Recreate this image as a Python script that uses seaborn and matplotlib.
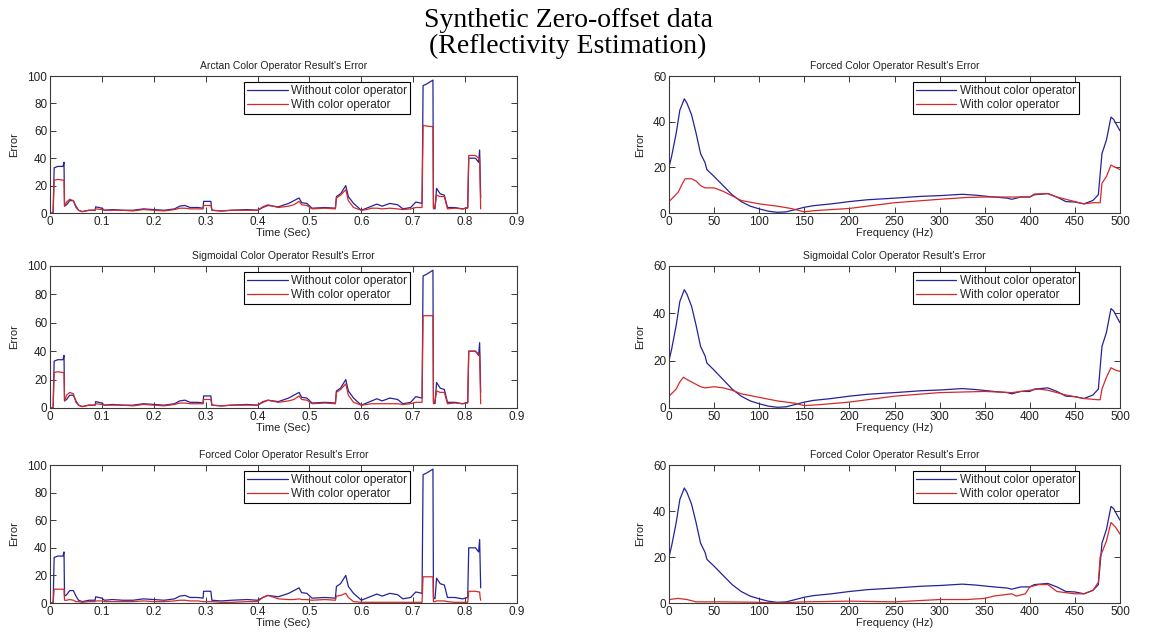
import numpy as np
import pandas as pd
import seaborn as sns
import matplotlib.pyplot as plt

# ---- time-domain error (left column) ----
t_sec = [0.000, 0.006, 0.008, 0.015, 0.025, 0.027, 0.028, 0.032, 0.038, 0.045,
         0.050, 0.055, 0.062, 0.075, 0.087, 0.088, 0.100, 0.105, 0.120, 0.140,
         0.160, 0.180, 0.200, 0.220, 0.240, 0.250, 0.260, 0.270, 0.285, 0.295,
         0.296, 0.310, 0.312, 0.330, 0.350, 0.380, 0.400, 0.410, 0.420, 0.440,
         0.460, 0.470, 0.480, 0.485, 0.495, 0.505, 0.530, 0.550, 0.552, 0.560,
         0.570, 0.575, 0.585, 0.600, 0.610, 0.620, 0.630, 0.640, 0.655, 0.670,
         0.680, 0.695, 0.705, 0.717, 0.719, 0.725, 0.738, 0.739, 0.742, 0.745,
         0.752, 0.760, 0.766, 0.780, 0.795, 0.805, 0.807, 0.820, 0.826, 0.828,
         0.829, 0.830]

t_without = [0, 0, 33, 34, 34, 37, 5, 6, 9, 9,
             5, 2, 1, 2, 2, 4.5, 3.5, 2, 2.5, 2,
             2, 3, 2.5, 2, 3, 5, 5.5, 4, 4, 3.5,
             8.5, 8.5, 2, 1.5, 2, 2.5, 2, 4, 5.5, 4.5,
             7, 9, 11, 7.5, 7, 3.5, 4, 3.5, 12, 14,
             20, 12, 7, 2, 3.5, 5, 6.5, 5, 7, 6,
             3, 4, 8, 7, 93, 94, 97, 4, 3, 18,
             14, 13, 4, 4, 3, 4, 40, 40, 37, 46,
             28, 11]

t_arctan = [0, 0, 24, 24.5, 24, 24, 5, 8, 10, 9,
            4, 2, 1, 2, 2, 3, 2.5, 2, 2, 2,
            1.5, 2.5, 2, 1.5, 2.5, 3.5, 3.5, 3, 3, 3,
            5.5, 5.5, 2, 1.5, 2, 2, 2, 4.5, 6, 4,
            5, 6, 8.5, 6, 5.5, 3, 3.5, 3, 11, 13,
            17, 9, 4, 2, 2.5, 3.5, 3.5, 3, 3.5, 3,
            2.5, 3, 4, 4, 64, 63.5, 63, 3, 5, 13,
            12, 12, 3, 3.5, 3, 3.5, 42, 42, 40, 40,
            20, 3]

t_sigmoid = [0, 0, 25, 25.5, 25, 25, 5, 9, 11, 10,
             4, 2, 1, 2, 2, 3, 2.5, 2, 2, 2,
             1.5, 2.5, 2, 1.5, 2.5, 3.5, 3.5, 3, 3, 3,
             6, 6, 2, 1.5, 2, 2, 2, 4.5, 5.5, 4,
             5, 6, 8.5, 6, 5.5, 3, 3.5, 3, 11, 13,
             17, 9, 4, 2, 2.5, 3, 3, 3, 3, 3,
             2.5, 3, 4, 4, 65, 65, 65, 3, 5, 12,
             11, 11, 3, 3.5, 3, 3.5, 40, 40, 38, 38,
             20, 3]

t_forced = [0, 0, 10, 10, 10, 10, 2, 2, 2.5, 2,
            1, 1, 0.5, 1, 1, 1.5, 1.5, 1, 1, 1,
            1, 1.5, 1, 1, 1.5, 2, 2, 1.5, 1.5, 1,
            1, 1, 1, 0.5, 0.5, 1, 1, 4, 5.5, 3,
            2.5, 2.5, 3, 2.5, 2.5, 2, 2.5, 2, 5, 5.5,
            7, 4, 1, 0.5, 0.5, 0.5, 0.5, 0.5, 0.5, 0.5,
            0.5, 0.5, 0.5, 0.5, 19, 19, 19, 1, 1, 1.5,
            1.5, 1.5, 1, 0.5, 0.5, 0.5, 8.5, 8.5, 8, 8,
            4, 2]

# ---- frequency-domain error (right column) ----
f_blue = [0, 3, 8, 12, 17, 20, 25, 30, 35, 40, 42, 50, 60, 70, 80, 90, 100, 110,
          120, 130, 140, 150, 160, 180, 200, 220, 250, 280, 300, 325, 340, 360,
          375, 380, 390, 400, 405, 420, 430, 440, 450, 460, 470, 476, 480, 485,
          490, 493, 495, 500]
f_without = [20, 25, 35, 45, 50, 48, 43, 35, 26, 22, 19, 16, 12, 8, 5, 3, 1.8, 0.8,
             0.3, 0.5, 1.5, 2.5, 3.2, 4, 5, 5.8, 6.5, 7.3, 7.6, 8.2, 7.8, 7,
             6.5, 6, 7, 7, 8, 8.5, 7, 5, 4.8, 4, 5.5, 8, 26, 32,
             42, 41, 39.5, 36]

f_red_forced_top = [0, 10, 15, 18, 25, 30, 35, 40, 50, 60, 70, 80, 100, 120, 135,
                    150, 160, 200, 250, 300, 330, 350, 380, 400, 405, 420, 430,
                    440, 460, 470, 478, 480, 485, 490, 495, 500]
f_forced_top = [5, 9, 13, 15, 15, 14, 12, 11, 11, 9.5, 7.5, 5.5, 4, 3, 2,
                0.5, 1, 2, 4.5, 6, 6.8, 7, 7, 7, 8.3, 8.5, 7,
                6, 4, 4.5, 4.5, 13, 16, 21, 20, 19]

f_red_sigmoid = [0, 8, 12, 16, 20, 25, 30, 35, 40, 50, 60, 70, 80, 100, 120, 140,
                 150, 170, 200, 250, 300, 350, 380, 400, 410, 420, 440, 460, 475,
                 478, 480, 485, 490, 495, 500]
f_sigmoid = [5, 8, 11, 13, 12, 11, 10, 9, 8.5, 9, 8.5, 7.5, 6, 4.5, 3, 2,
             1, 1.5, 2.5, 5, 6.5, 7, 6.5, 7.5, 8, 7.5, 5.5, 4, 3.5,
             3.5, 8, 13, 17, 16, 15.5]

f_red_forced_bot = [0, 10, 20, 30, 60, 100, 120, 150, 200, 250, 300, 330, 350,
                    360, 370, 380, 385, 395, 400, 410, 420, 430, 440, 450, 460,
                    470, 476, 478, 485, 490, 495, 500]
f_forced_bot = [1.5, 2, 1.5, 0.5, 0.5, 0.3, 0, 0.5, 0.8, 0.5, 1.5, 1.5, 2,
                3, 3.5, 4, 3, 4, 7, 8, 8, 5, 4.5, 4, 4,
                5.5, 9, 20, 27, 35, 33, 30]

time_ticks = [0, 0.1, 0.2, 0.3, 0.4, 0.5, 0.6, 0.7, 0.8, 0.9]
time_labels = ["0", "0.1", "0.2", "0.3", "0.4", "0.5", "0.6", "0.7", "0.8", "0.9"]
freq_ticks = [0, 50, 100, 150, 200, 250, 300, 350, 400, 450, 500]

left_titles = ["Arctan Color Operator Result's Error",
               "Sigmoidal Color Operator Result's Error",
               "Forced Color Operator Result's Error"]
right_titles = ["Forced Color Operator Result's Error",
                "Sigmoidal Color Operator Result's Error",
                "Forced Color Operator Result's Error"]

sns.set_theme(style="ticks")
plt.rcParams['font.family'] = ['Liberation Sans', 'DejaVu Sans']

BLUE = "#23239a"
RED = "#d42a2a"
FS = 8

fig = plt.figure(figsize=(11.53, 6.37), dpi=100)
W, H = 1153, 637
rows_px = [(76, 213), (266, 408), (465, 603)]


def make_ax(x0, x1, y0, y1):
    return fig.add_axes([x0 / W, 1 - y1 / H, (x1 - x0) / W, (y1 - y0) / H])


def style(ax):
    for s in ax.spines.values():
        s.set_color("#3a3a3a")
        s.set_linewidth(0.8)
    ax.tick_params(direction="in", top=True, right=True, length=4, width=0.7,
                   labelsize=FS + 0.5, colors="#3a3a3a", labelcolor="#222222", pad=2)
    ax.set_ylabel("Error", fontsize=FS, color="#222222", labelpad=6)


def legend(ax, anchor):
    leg = ax.legend(loc="upper right", bbox_to_anchor=anchor, fontsize=FS + 0.5,
                    frameon=True, fancybox=False, framealpha=1, edgecolor="black",
                    handlelength=3.4, handletextpad=0.3, borderpad=0.25,
                    labelspacing=0.15, borderaxespad=0)
    leg.get_frame().set_linewidth(0.8)


left_reds = [t_arctan, t_sigmoid, t_forced]
right_reds = [(f_red_forced_top, f_forced_top), (f_red_sigmoid, f_sigmoid),
              (f_red_forced_bot, f_forced_bot)]

for i, (y0, y1) in enumerate(rows_px):
    # left: time
    ax = make_ax(50, 517, y0, y1)
    df_b = pd.DataFrame({"x": t_sec, "y": t_without})
    df_r = pd.DataFrame({"x": t_sec, "y": left_reds[i]})
    sns.lineplot(data=df_b, x="x", y="y", ax=ax, color=BLUE, lw=0.9,
                 sort=False, estimator=None, label="Without color operator")
    sns.lineplot(data=df_r, x="x", y="y", ax=ax, color=RED, lw=0.9,
                 sort=False, estimator=None, label="With color operator")
    ax.set_xlim(0, 0.9)
    ax.set_ylim(0, 100)
    ax.set_xticks(time_ticks)
    ax.set_xticklabels(time_labels)
    ax.set_yticks([0, 20, 40, 60, 80, 100])
    style(ax)
    ax.set_xlabel("Time (Sec)", fontsize=FS, color="#222222", labelpad=0)
    ax.set_title(left_titles[i], fontsize=FS - 0.5, color="#222222", pad=5)
    legend(ax, (0.771, 0.955))

    # right: frequency
    ax = make_ax(669, 1120, y0, y1)
    fx, fy = right_reds[i]
    df_b = pd.DataFrame({"x": f_blue, "y": f_without})
    df_r = pd.DataFrame({"x": fx, "y": fy})
    sns.lineplot(data=df_b, x="x", y="y", ax=ax, color=BLUE, lw=0.9,
                 sort=False, estimator=None, label="Without color operator")
    sns.lineplot(data=df_r, x="x", y="y", ax=ax, color=RED, lw=0.9,
                 sort=False, estimator=None, label="With color operator")
    ax.set_xlim(0, 500)
    ax.set_ylim(0, 60)
    ax.set_xticks(freq_ticks)
    ax.set_yticks([0, 20, 40, 60])
    style(ax)
    ax.set_xlabel("Frequency (Hz)", fontsize=FS, color="#222222", labelpad=0)
    ax.set_title(right_titles[i], fontsize=FS - 0.5, color="#222222", pad=5)
    legend(ax, (0.909, 0.955))

fig.text(568 / W, 1 - 8 / H, "Synthetic Zero-offset data\n(Reflectivity Estimation)",
         ha="center", va="top", fontsize=20, family="Liberation Serif",
         linespacing=1.05, color="black")

fig.savefig("out.png", dpi=100)
